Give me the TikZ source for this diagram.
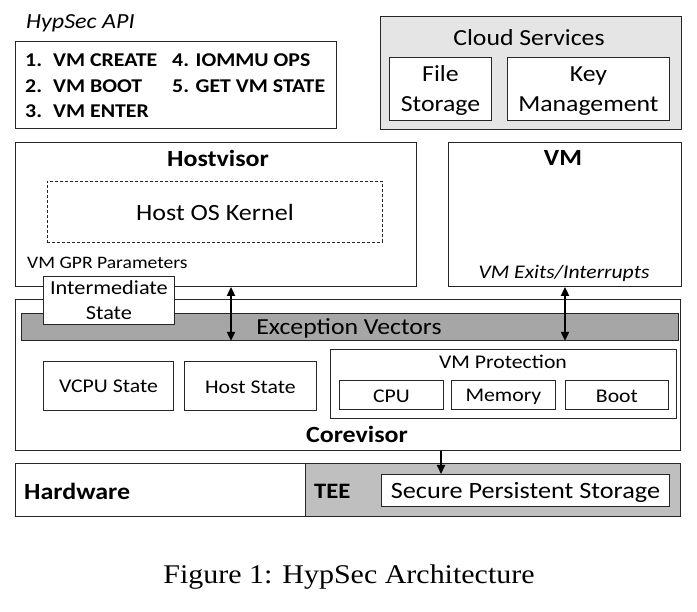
\documentclass[tikz,border=0pt]{standalone}
\usepackage{fontspec}
\setmainfont[FakeStretch=1.12]{Carlito}
\newfontfamily\captionfont[FakeStretch=1.11]{Liberation Serif}
\usetikzlibrary{arrows.meta}
\newcommand{\fs}[1]{\fontsize{#1}{#1}\selectfont}
\begin{document}
\begin{tikzpicture}[x=1pt,y=-1pt,
  box/.style={draw=black!85, line width=0.9pt, fill=white, inner sep=0pt, anchor=north west},
  graybox/.style={box, fill=black!10},
  txt/.style={inner sep=0pt, font=\fs{23}},
  small/.style={inner sep=0pt, font=\fs{19.4}},
  tiny/.style={inner sep=0pt, font=\fs{17.5}},
  head/.style={inner sep=0pt, font=\fs{23.2}\bfseries},
  apiitem/.style={inner sep=0pt, anchor=west, font=\fs{19.5}\bfseries},
  dblarrow/.style={line width=1.8pt, {Triangle[width=8pt,length=9pt]}-{Triangle[width=8pt,length=9pt]}},
  onearrow/.style={line width=1.8pt, -{Triangle[width=8pt,length=9pt]}}
]
\useasboundingbox (0,0) rectangle (697,612);

% API summary
\node[inner sep=0pt, anchor=west, font=\fs{21.5}\itshape] (apititle) at (26,23) {HypSec API};
\node[box, minimum width=321pt, minimum height=87pt] (api) at (15,41) {};
\node[apiitem] (i1) at (25,60) {\makebox[28pt][l]{1.}VM CREATE};
\node[apiitem] (i2) at (25,86) {\makebox[28pt][l]{2.}VM BOOT};
\node[apiitem] (i3) at (25,111) {\makebox[28pt][l]{3.}VM ENTER};
\node[apiitem] (i4) at (172,60) {4. IOMMU OPS};
\node[apiitem] (i5) at (172,86) {5. GET VM STATE};

% Cloud services
\node[graybox, minimum width=301pt, minimum height=113pt] (cloud) at (380,16) {};
\node[txt] (cloudlbl) at (529,38) {Cloud Services};
\node[box, minimum width=102pt, minimum height=63pt] (file) at (389,57) {};
\node[txt, align=center, font=\fontsize{23}{30}\selectfont] (filelbl) at ([yshift=-2pt]file.center) {File\\Storage};
\node[box, minimum width=162pt, minimum height=63pt] (key) at (507,57) {};
\node[txt, align=center, font=\fontsize{23}{30}\selectfont] (keylbl) at ([yshift=-2pt]key.center) {Key\\Management};

% Hostvisor
\node[box, minimum width=401pt, minimum height=144pt] (hv) at (15,142) {};
\node[head] (hvlbl) at (218,158) {Hostvisor};
\node[box, dashed, dash pattern=on 3pt off 2pt, minimum width=335pt, minimum height=61pt] (kern) at (47,181) {};
\node[txt, font=\fs{23.3}] (kernlbl) at ([yshift=-1pt]kern.center) {Host OS Kernel};
\node[tiny, anchor=west] (gpr) at (27,263) {VM GPR Parameters};

% VM
\node[box, minimum width=233pt, minimum height=144pt] (vm) at (448,142) {};
\node[head] (vmlbl) at (563,158) {VM};
\node[tiny, font=\fs{19.3}\itshape] (exits) at (564,273) {VM Exits/Interrupts};

% Corevisor
\node[box, minimum width=665pt, minimum height=151pt] (core) at (15,299) {};
\node[box, fill=black!35, minimum width=657pt, minimum height=27pt] (ev) at (21,313) {};
\node[txt] (evlbl) at (349,328) {Exception Vectors};
\node[box, minimum width=131pt, minimum height=48pt] (inter) at (43,276) {};
\node[txt, align=center, font=\fontsize{19.9}{25}\selectfont] (interlbl) at (inter.center) {Intermediate\\State};
\node[box, minimum width=130pt, minimum height=49pt] (vcpu) at (43,361) {};
\node[small] (vcpulbl) at (vcpu.center) {VCPU State};
\node[box, minimum width=132pt, minimum height=49pt] (hst) at (184,361) {};
\node[small] (hstlbl) at ([yshift=-1pt]hst.center) {Host State};
\node[box, minimum width=346pt, minimum height=69pt] (prot) at (330,349) {};
\node[small] (protlbl) at (503,362) {VM Protection};
\node[box, minimum width=104pt, minimum height=29pt] (cpu) at (339,380) {};
\node[small] (cpulbl) at ([yshift=-1pt]cpu.center) {CPU};
\node[box, minimum width=104pt, minimum height=29pt] (mem) at (451,380) {};
\node[small] (memlbl) at ([yshift=-2pt]mem.center) {Memory};
\node[box, minimum width=103pt, minimum height=29pt] (boot) at (565,380) {};
\node[small] (bootlbl) at ([yshift=-1pt]boot.center) {Boot};
\node[head] (corelbl) at (357,434) {Corevisor};

% Hardware and TEE
\node[box, minimum width=665pt, minimum height=53pt] (hw) at (15,463) {};
\node[box, fill=black!25, minimum width=375pt, minimum height=53pt] (tee) at (305,463) {};
\node[head, anchor=west] (hwlbl) at (24,491) {Hardware};
\node[head, font=\fs{22}\bfseries, anchor=west] (teelbl) at (314,491) {TEE};
\node[box, minimum width=288pt, minimum height=32pt] (sps) at (381,474) {};
\node[txt, font=\fs{23.4}] (spslbl) at ([yshift=-2pt]sps.center) {Secure Persistent Storage};

% Connectors
\coordinate (ax1) at (231,0);
\coordinate (ax2) at (565,0);
\coordinate (ax3) at (441,0);
\draw[dblarrow] (hv.south -| ax1) -- (ev.south -| ax1);
\draw[dblarrow] (vm.south -| ax2) -- (ev.south -| ax2);
\draw[onearrow] (core.south -| ax3) -- (sps.north -| ax3);

% Caption
\node[inner sep=0pt, font=\captionfont\fs{27}] (caption) at (349,577) {Figure 1: HypSec Architecture};
\end{tikzpicture}
\end{document}
